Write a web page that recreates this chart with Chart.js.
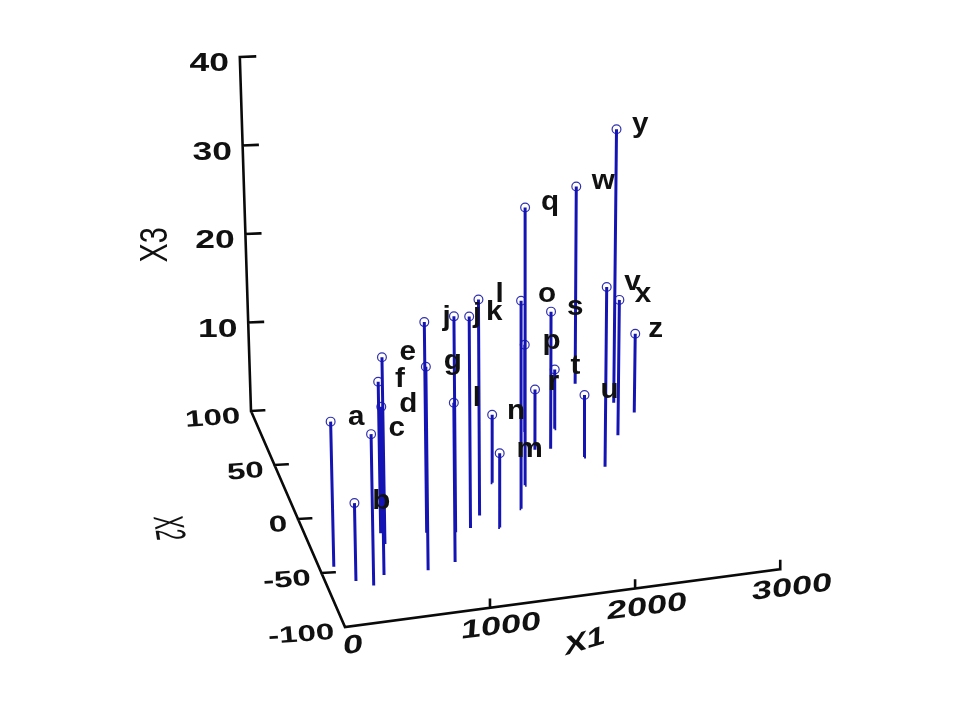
<!DOCTYPE html>
<html>
<head>
<meta charset="utf-8">
<style>html,body{margin:0;padding:0;background:#fff}canvas{display:block}</style>
<script src="https://cdn.jsdelivr.net/npm/chart.js@4"></script>
</head>
<body>
<canvas id="c" width="960" height="720"></canvas>
<script>
// Data
const pointLabels = ['a','b','c','d','e','f','g','j','j','k','l','l','m','n','o','p','q','r','s','t','u','v','w','x','y','z'];
const x1Values = [98,202,305,402,496,499,703,800,990,1099,1194,902,1292,1370,1484,1729,1576,1741,1846,1928,2041,2150,2190,2323,2388,2494];
const x2Values = [-46,-61,-67,-59,-32,-22,-60,-27,-30,-28,-18,-56,-31,9,-17,51,3,33,32,49,21,10,86,36,65,54];
const x3Values = [16.4,8.8,17.1,19.0,21.1,17.1,23.0,23.8,24.4,23.9,24.4,18.0,8.4,7.7,23.5,9.7,31.4,6.8,15.5,6.7,7.0,20.3,22.3,15.3,30.9,8.9];
const x1Ticks = [0,1000,2000,3000];
const x2Ticks = [-100,-50,0,50,100];
const x3Ticks = [10,20,30,40];

// Layout of the labels, in pixels from their point
const labelShift = [[26,-4],[27,-4],[26,-6],[27,-5],[26,-5],[22,-5],[27,-3],[21,-5],[22,-2],[26,-7],[21,-8],[23,-7],[30,-4],[24,-3],[26,-6],[27,-1],[25,-2],[19,-7],[24,-4],[21,-5],[25,-5],[26,-5],[27,-5],[24,-5],[24,-2],[21,-4]];

// View of the 3D box on the page plane
function project(x1, x2, x3) {
  const u = x2 + 100;
  const b = 345 + 0.145 * x1 - 0.47 * u;
  return { x: b + (b - 525) * 0.00102 * x3, y: 627 - 0.0193 * x1 - 1.08 * u - 8.85 * x3 };
}
const gap = { x: NaN, y: NaN };
const stems = [], tops = [];
x1Values.forEach((v, i) => {
  const top = project(v, x2Values[i], x3Values[i]);
  tops.push(top);
  stems.push(project(v, x2Values[i], 0), top, gap);
});
const axes = [
  project(3000,-100,0), project(0,-100,0), project(0,100,0), project(0,100,40), gap
];
x1Ticks.slice(1).forEach(t => axes.push(project(t,-100,0), project(t,-100,0.9), gap));
x2Ticks.slice(1).forEach(t => axes.push(project(0,t,0), project(90,t,-0.12), gap));
x3Ticks.forEach(t => axes.push(project(0,100,t), project(100,100,t-0.15), gap));

const FACE = '"Liberation Sans", Arial, sans-serif';
// Text placed with its own advance and up vectors, centred on its ink
function put(ctx, text, px, py, font, adv, up, align) {
  ctx.save();
  ctx.font = font;
  ctx.fillStyle = '#111';
  ctx.textAlign = 'left';
  ctx.textBaseline = 'alphabetic';
  const m = ctx.measureText(text);
  const cx = align === 'right' ? m.actualBoundingBoxRight : (m.actualBoundingBoxRight - m.actualBoundingBoxLeft) / 2;
  const cy = (m.actualBoundingBoxDescent - m.actualBoundingBoxAscent) / 2;
  ctx.transform(adv[0], adv[1], -up[0], -up[1], px, py);
  ctx.fillText(text, -cx, -cy);
  ctx.restore();
}
const textPlugin = {
  id: 'texts',
  afterDatasetsDraw(chart) {
    const ctx = chart.ctx, sx = chart.scales.x, sy = chart.scales.y;
    const at = p => [sx.getPixelForValue(p.x), sy.getPixelForValue(p.y)];
    const tickFont = 'bold 20px ' + FACE;
    x3Ticks.forEach(t => {
      const [a, b] = at(project(0,100,t));
      put(ctx, String(t), a - 12, b + 5, 'bold 25px ' + FACE, [1.42,0], [0,-1.05], 'right');
    });
    x2Ticks.forEach(t => {
      const [a, b] = at(project(0,t,0));
      put(ctx, String(t), a - 11, b + 4, tickFont, [1.65,-0.12], [-0.1,-1.15], 'right');
    });
    x1Ticks.forEach(t => {
      const [a, b] = at(project(t,-100,0));
      put(ctx, String(t), a + (t === 0 ? 8 : 12), b + 17, tickFont, [1.8,-0.22], [0.1,-1.3], 'center');
    });
    put(ctx, 'X1', sx.getPixelForValue(585), sy.getPixelForValue(640), 'bold 20px ' + FACE, [1.65,-0.5], [0.05,-1.35], 'center');
    put(ctx, 'X2', sx.getPixelForValue(170), sy.getPixelForValue(528), '20px ' + FACE, [0.15,1.0], [2.1,-0.1], 'center');
    put(ctx, 'X3', sx.getPixelForValue(153), sy.getPixelForValue(245), '24px ' + FACE, [0,-1.2], [-1.6,0], 'center');
    pointLabels.forEach((t, i) => {
      const [a, b] = at(tops[i]);
      put(ctx, t, a + labelShift[i][0], b + labelShift[i][1], 'bold 26px ' + FACE, [1.14,0], [0,-1.08], 'center');
    });
  }
};

new Chart(document.getElementById('c'), {
  type: 'scatter',
  data: { datasets: [
    { data: stems, showLine: true, spanGaps: false, borderColor: '#1414b4', borderWidth: 3, pointRadius: 0 },
    { data: tops, showLine: false, pointRadius: 4.4, pointBorderWidth: 1.2, pointBorderColor: '#3030b0', pointBackgroundColor: 'rgba(255,255,255,0.7)' },
    { data: axes, showLine: true, spanGaps: false, borderColor: '#0a0a0a', borderWidth: 2.6, pointRadius: 0, borderCapStyle: 'square' }
  ]},
  plugins: [textPlugin],
  options: {
    responsive: false,
    animation: false,
    layout: { padding: 0, autoPadding: false },
    plugins: { legend: { display: false }, tooltip: { enabled: false } },
    scales: {
      x: { type: 'linear', min: 0, max: 960, display: false },
      y: { type: 'linear', min: 0, max: 720, reverse: true, display: false }
    }
  }
});
</script>
</body>
</html>
